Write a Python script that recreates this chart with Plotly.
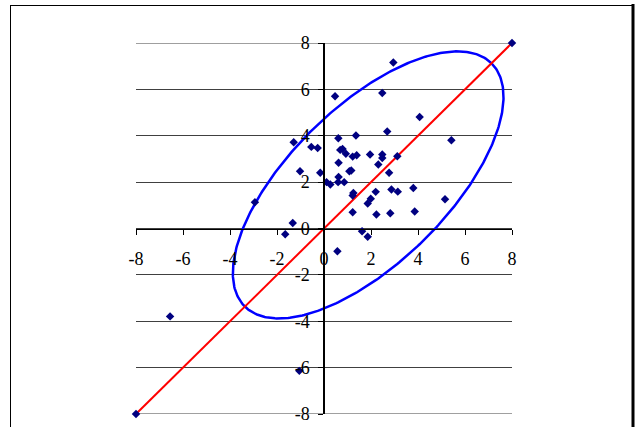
import numpy as np
import plotly.graph_objects as go

# Observed pairs (x, y)
x_vals = [-8, 8, -6.55, -1.05, -2.94, -1.65, -1.33, -1.29, -0.54, -0.27,
          -1.02, -0.16, 0.11, 0.27, 0.47, 0.61, 0.69, 0.79, 0.93, 1.22,
          1.39, 1.36, 0.62, 0.60, 0.62, 0.86, 1.08, 1.16, 1.25, 1.22,
          1.22, 0.57, 1.62, 1.86, 1.86, 1.99, 2.20, 2.23, 1.96, 2.48,
          2.48, 2.31, 2.77, 2.69, 2.48, 2.95, 3.12, 2.87, 3.14, 2.82,
          3.80, 3.86, 4.07, 5.42, 5.15]
y_vals = [-8, 8, -3.79, -6.14, 1.13, -0.25, 0.24, 3.72, 3.52, 3.47,
          2.47, 2.40, 2.00, 1.90, 5.70, 3.89, 3.39, 3.43, 3.22, 3.10,
          3.16, 4.01, 2.84, 2.00, 2.22, 2.00, 2.47, 2.50, 1.53, 1.42,
          0.70, -0.98, -0.12, -0.36, 1.08, 1.28, 1.58, 0.60, 3.19, 3.19,
          3.04, 2.76, 2.40, 4.18, 5.84, 7.16, 3.12, 1.68, 1.59, 0.66,
          1.75, 0.73, 4.81, 3.81, 1.26]

# Identity line y = x
line_x = [-8, 8]
line_y = [-8, 8]

# Ellipse: centre, semi-axes and rotation (degrees)
ell_center = (1.88, 1.88)
ell_a, ell_b = 7.42, 3.36
ell_angle = 45.0

tick_vals = [-8, -6, -4, -2, 0, 2, 4, 6, 8]
tick_text = ["-8", "-6", "-4", "-2", "0", "2", "4", "6", "8"]

t = np.linspace(0, 2 * np.pi, 400)
th = np.radians(ell_angle)
ex = ell_center[0] + ell_a * np.cos(t) * np.cos(th) - ell_b * np.sin(t) * np.sin(th)
ey = ell_center[1] + ell_a * np.cos(t) * np.sin(th) + ell_b * np.sin(t) * np.cos(th)

fig = go.Figure()
fig.add_trace(go.Scatter(x=ex, y=ey, mode="lines",
                         line=dict(color="#0000FF", width=2.5),
                         hoverinfo="skip", showlegend=False))
fig.add_trace(go.Scatter(x=line_x, y=line_y, mode="lines",
                         line=dict(color="#FF0000", width=2),
                         hoverinfo="skip", showlegend=False))
fig.add_trace(go.Scatter(x=x_vals, y=y_vals, mode="markers",
                         marker=dict(symbol="diamond", size=6.5, color="#000080",
                                     line=dict(width=0)),
                         showlegend=False, cliponaxis=False))

W, H = 643, 427
ML, MR, MT, MB = 136, 131, 43, 13
pw, ph = W - ML - MR, H - MT - MB


def px(xp):
    return (xp - ML) / pw


def py(yp):
    return (H - MB - yp) / ph


frame = dict(xref="paper", yref="paper", type="line", layer="above")
shapes = [
    dict(frame, x0=px(10.5), x1=px(10.5), y0=py(5), y1=py(440), line=dict(color="black", width=1)),
    dict(frame, x0=px(10), x1=px(634), y0=py(5.5), y1=py(5.5), line=dict(color="black", width=1)),
    dict(frame, x0=px(633), x1=px(633), y0=py(4), y1=py(440), line=dict(color="black", width=3)),
]
# grid lines at the outer ticks (top and bottom of the value range)
for v in (tick_vals[0], tick_vals[-1]):
    shapes.append(dict(type="line", xref="x", yref="y", layer="below",
                       x0=tick_vals[0], x1=tick_vals[-1], y0=v, y1=v,
                       line=dict(color="#404040", width=1)))

font = dict(family="Liberation Serif, Times New Roman, serif", size=18, color="black")

fig.update_layout(
    width=W, height=H,
    margin=dict(l=ML, r=MR, t=MT, b=MB, pad=0, autoexpand=False),
    paper_bgcolor="white", plot_bgcolor="white",
    font=font,
    shapes=shapes,
    xaxis=dict(range=[-8, 8], tickvals=tick_vals, ticktext=tick_text,
               anchor="free", position=0.5, automargin=False,
               showline=True, linecolor="black", linewidth=1,
               ticks="outside", ticklen=5, tickcolor="black", tickwidth=1,
               ticklabelstandoff=9,
               showgrid=False, zeroline=False, tickfont=font),
    yaxis=dict(range=[-8, 8], tickvals=tick_vals, ticktext=tick_text,
               anchor="free", position=0.5, automargin=False,
               showline=True, linecolor="black", linewidth=1.5,
               ticks="outside", ticklen=5, tickcolor="black", tickwidth=1,
               ticklabelstandoff=5,
               showgrid=True, gridcolor="#404040", gridwidth=1,
               zeroline=False, tickfont=font),
)

fig.write_html("out.html")
